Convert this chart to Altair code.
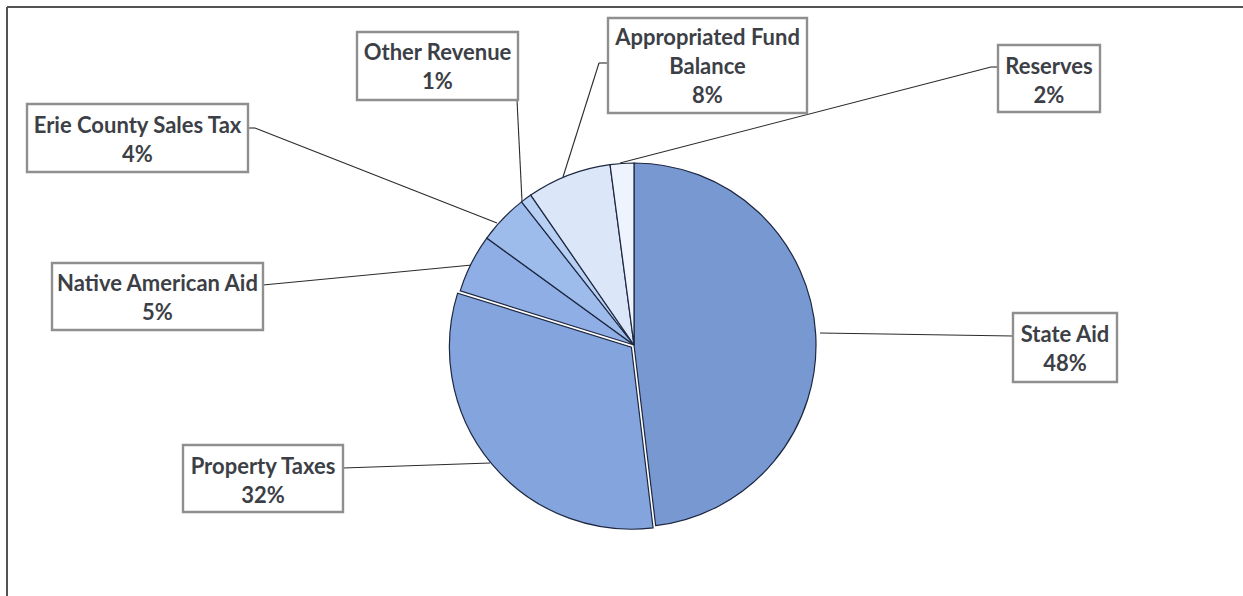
import math
import altair as alt
import pandas as pd

# ---- data ----
categories = ["State Aid", "Property Taxes", "Native American Aid",
              "Erie County Sales Tax", "Other Revenue",
              "Appropriated Fund Balance", "Reserves"]
shares = [48.1, 31.7, 5.2, 4.4, 1.0, 7.5, 2.1]
pct_labels = ["48%", "32%", "5%", "4%", "1%", "8%", "2%"]
label_names = [["State Aid"], ["Property Taxes"], ["Native American Aid"],
               ["Erie County Sales Tax"], ["Other Revenue"],
               ["Appropriated Fund", "Balance"], ["Reserves"]]

# ---- styles ----
colors = ["#7898d2", "#84a4dd", "#8faee5", "#9dbcec", "#b7d0f3", "#dbe7f9", "#eef4fd"]
W, H = 1243, 596
CX, CY, R = 634, 345, 182
TEXT_COLOR = "#3d3f47"
FONT = "Lato"

# ---- layout of label boxes (x1, x2, y1, y2, first text line centre y) ----
boxes = {
    "State Aid": (1013, 1117, 313, 382, 335),
    "Property Taxes": (183, 343, 445, 512, 467),
    "Native American Aid": (52, 263, 263, 330, 284),
    "Erie County Sales Tax": (27, 248, 104, 172, 126),
    "Other Revenue": (357, 518, 32, 100, 53),
    "Appropriated Fund Balance": (608, 807, 18, 113, 38),
    "Reserves": (998, 1100, 45, 112, 67),
}
# leader line segments
leaders = [
    (1013, 336, 820, 333),
    (343, 468, 490, 463),
    (263, 285, 472, 265),
    (248, 128, 255, 128), (255, 128, 497, 223),
    (517, 100, 522, 201),
    (608, 63, 599, 63), (599, 63, 563, 177),
    (998, 67, 991, 67), (991, 67, 620, 163),
]

pie_df = pd.DataFrame({"cat": categories, "share": shares,
                       "order": list(range(len(categories)))})

theta_scale = alt.Scale(domain=[0, 100], range=[0, 2 * math.pi])
color_enc = alt.Color("cat:N", scale=alt.Scale(domain=categories, range=colors), legend=None)

base = (alt.Chart(pie_df)
        .transform_window(end="sum(share)", sort=[alt.SortField("order")], frame=[None, 0])
        .transform_calculate(start="datum.end - datum.share"))

pie_rest = base.transform_filter(alt.datum.cat != "Property Taxes").mark_arc(
    radius=R, stroke="#1d2740", strokeWidth=1.2).encode(
    theta=alt.Theta("start:Q", scale=theta_scale),
    theta2="end:Q",
    color=color_enc,
    x=alt.value(CX), y=alt.value(CY),
)

# slightly exploded slice (Property Taxes)
pie_prop = base.transform_filter(alt.datum.cat == "Property Taxes").mark_arc(
    radius=R, stroke="#1d2740", strokeWidth=1.2).encode(
    theta=alt.Theta("start:Q", scale=theta_scale),
    theta2="end:Q",
    color=color_enc,
    x=alt.value(CX - 2.6), y=alt.value(CY + 2.2),
)

lab_rows = []
for name, lines, pct in zip(categories, label_names, pct_labels):
    x1, x2, y1, y2, ty = boxes[name]
    lab_rows.append({"cat": name, "x1": x1, "x2": x2, "y1": y1, "y2": y2,
                     "tx": (x1 + x2) / 2, "ty": ty,
                     "label": "\n".join(lines + [pct])})
lab_df = pd.DataFrame(lab_rows)

lead_df = pd.DataFrame(leaders, columns=["x", "y", "x2", "y2"])

leader_layer = alt.Chart(lead_df).mark_rule(color="#2b2b2b", strokeWidth=1.1).encode(
    x=alt.X("x:Q", scale=None), y=alt.Y("y:Q", scale=None),
    x2="x2:Q", y2="y2:Q",
)

box_layer = alt.Chart(lab_df).mark_rect(fill="white", stroke="#8f8f8f", strokeWidth=2.4).encode(
    x=alt.X("x1:Q", scale=None), x2="x2:Q",
    y=alt.Y("y1:Q", scale=None), y2="y2:Q",
)

text_layer = alt.Chart(lab_df).mark_text(
    font=FONT, fontSize=22, fontWeight="bold", color=TEXT_COLOR,
    lineBreak="\n", lineHeight=29, align="center", baseline="middle",
).encode(
    x=alt.X("tx:Q", scale=None), y=alt.Y("ty:Q", scale=None), text="label:N",
)

frame_top = alt.Chart(pie_df).mark_rule(color="#555555", strokeWidth=1.5).encode(
    x=alt.value(7), x2=alt.value(W), y=alt.value(7))
frame_left = alt.Chart(pie_df).mark_rule(color="#555555", strokeWidth=1.5).encode(
    x=alt.value(7), y=alt.value(7), y2=alt.value(H))

chart = alt.layer(
    frame_top, frame_left, leader_layer, pie_rest, pie_prop, box_layer, text_layer
).properties(
    width=W, height=H, padding=0, autosize=alt.AutoSizeParams(type="none"),
    background="white",
).configure_view(stroke=None)

chart.save("out.html", embed_options={"renderer": "svg", "actions": False})
